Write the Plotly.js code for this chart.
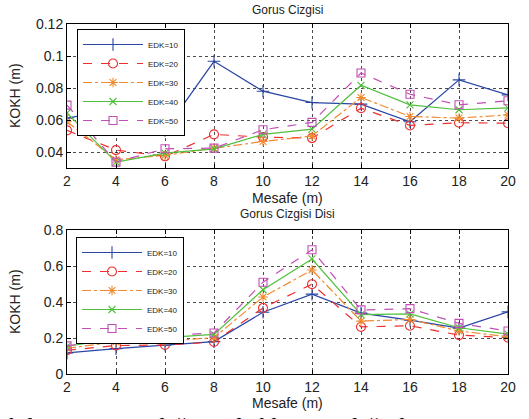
<!DOCTYPE html>
<html><head><meta charset="utf-8">
<script src="https://cdn.plot.ly/plotly-3.0.1.min.js"></script>
<style>html,body{margin:0;padding:0;background:#fff;}#chart{width:529px;height:419px;}</style>
</head><body><div id="chart"></div>
<script>
const mesafe = [2, 4, 6, 8, 10, 12, 14, 16, 18, 20];
const seriesNames = ['EDK=10', 'EDK=20', 'EDK=30', 'EDK=40', 'EDK=50'];

// Gorus Cizgisi (top)
const gcEdk10 = [0.0612, 0.0666, 0.0535, 0.0967, 0.0780, 0.0709, 0.0699, 0.0589, 0.0851, 0.0757];
const gcEdk20 = [0.0535, 0.0412, 0.0373, 0.0510, 0.0493, 0.0487, 0.0674, 0.0566, 0.0583, 0.0580];
const gcEdk30 = [0.0589, 0.0352, 0.0379, 0.0424, 0.0466, 0.0500, 0.0741, 0.0622, 0.0612, 0.0632];
const gcEdk40 = [0.0643, 0.0337, 0.0393, 0.0420, 0.0510, 0.0543, 0.0817, 0.0695, 0.0664, 0.0676];
const gcEdk50 = [0.0693, 0.0337, 0.0420, 0.0424, 0.0539, 0.0585, 0.0894, 0.0761, 0.0695, 0.0720];

// Gorus Cizgisi Disi (bottom)
const gcdEdk10 = [0.117, 0.141, 0.160, 0.180, 0.343, 0.444, 0.338, 0.299, 0.255, 0.345];
const gcdEdk20 = [0.132, 0.158, 0.161, 0.178, 0.367, 0.499, 0.262, 0.268, 0.216, 0.202];
const gcdEdk30 = [0.143, 0.178, 0.183, 0.202, 0.428, 0.578, 0.294, 0.303, 0.239, 0.207];
const gcdEdk40 = [0.154, 0.195, 0.202, 0.220, 0.468, 0.639, 0.330, 0.334, 0.257, 0.222];
const gcdEdk50 = [0.156, 0.200, 0.213, 0.228, 0.510, 0.690, 0.356, 0.363, 0.281, 0.239];

const xTicks = [2, 4, 6, 8, 10, 12, 14, 16, 18, 20];
const yTopTicks = [0.04, 0.06, 0.08, 0.1, 0.12];
const yTopLabels = ['0.04', '0.06', '0.08', '0.1', '0.12'];
const yBotTicks = [0, 0.2, 0.4, 0.6, 0.8];
const yBotLabels = ['0', '0.2', '0.4', '0.6', '0.8'];

const topTitle = 'Gorus Cizgisi';
const botTitle = 'Gorus Cizgisi Disi';
const xTitle = 'Mesafe (m)';
const yTitle = 'KOKH (m)';
const caption = 'ekil 5: CSA\u2019nın değişen farklı EDK değerleri için KOKH';

const colors = ['#2a45a3', '#ec2f2f', '#f28a2e', '#4fbf3c', '#c24fb5'];
const dashes = ['solid', 'dash', 'dashdot', 'solid', 'dash'];
const symbols = ['cross-thin-open', 'circle-open', 'asterisk-open', 'x-thin-open', 'square-open'];
const msizes = [9, 9, 8, 7, 8];

const topData = [gcEdk10, gcEdk20, gcEdk30, gcEdk40, gcEdk50];
const botData = [gcdEdk10, gcdEdk20, gcdEdk30, gcdEdk40, gcdEdk50];

const traces = [];
topData.forEach((ys, i) => {
  traces.push({x: mesafe, y: ys, name: seriesNames[i], type: 'scatter', mode: 'lines+markers',
    xaxis: 'x', yaxis: 'y', legend: 'legend',
    line: {color: colors[i], width: 1.2, dash: dashes[i]},
    marker: {symbol: symbols[i], size: msizes[i], color: colors[i], line: {color: colors[i], width: 1.1}}});
});
botData.forEach((ys, i) => {
  traces.push({x: mesafe, y: ys, name: seriesNames[i], type: 'scatter', mode: 'lines+markers',
    xaxis: 'x2', yaxis: 'y2', legend: 'legend2',
    line: {color: colors[i], width: 1.2, dash: dashes[i]},
    marker: {symbol: symbols[i], size: msizes[i], color: colors[i], line: {color: colors[i], width: 1.1}}});
});

const W = 529, H = 419;
const xd = [67 / W, 508 / W];
const axFont = {family: 'Liberation Sans, Arial, sans-serif', size: 14, color: '#222'};
function xAxis(anchor) {
  return {domain: xd, range: [2, 20], tickvals: xTicks, ticktext: xTicks.map(String), anchor: anchor,
    showline: true, linecolor: '#000', linewidth: 1, mirror: 'ticks', ticks: 'inside', ticklen: 4,
    tickcolor: '#000', showgrid: true, gridcolor: '#000', griddash: 'dot', gridwidth: 0.7,
    zeroline: false, tickfont: axFont};
}
function yAxis(anchor, dom, rng, tv, tt) {
  return {domain: dom, range: rng, tickvals: tv, ticktext: tt, anchor: anchor,
    showline: true, linecolor: '#000', linewidth: 1, mirror: 'ticks', ticks: 'inside', ticklen: 4,
    tickcolor: '#000', showgrid: true, gridcolor: '#000', griddash: 'dot', gridwidth: 0.7,
    zeroline: false, tickfont: axFont};
}
const legFont = {family: 'Liberation Sans, Arial, sans-serif', size: 8, color: '#222'};
const layout = {
  width: W, height: H, margin: {l: 0, r: 0, t: 0, b: 0},
  paper_bgcolor: '#fff', plot_bgcolor: '#fff', showlegend: true,
  xaxis: xAxis('y'),
  yaxis: yAxis('x', [1 - 168 / H, 1 - 24 / H], [0.03, 0.12], yTopTicks, yTopLabels),
  xaxis2: xAxis('y2'),
  yaxis2: yAxis('x2', [1 - 374 / H, 1 - 230 / H], [0, 0.8], yBotTicks, yBotLabels),
  legend: {x: 77 / W, y: 1 - 29 / H, xanchor: 'left', yanchor: 'top', bgcolor: '#fff',
    bordercolor: '#000', borderwidth: 1, font: legFont, tracegroupgap: 0, itemwidth: 60},
  legend2: {x: 76 / W, y: 1 - 237 / H, xanchor: 'left', yanchor: 'top', bgcolor: '#fff',
    bordercolor: '#000', borderwidth: 1, font: legFont, tracegroupgap: 0, itemwidth: 60},
  annotations: [
    {text: topTitle, x: 287.5 / W, y: 1 - 10 / H, xref: 'paper', yref: 'paper', showarrow: false,
      xanchor: 'center', yanchor: 'middle', font: {family: 'Liberation Sans, Arial, sans-serif', size: 12, color: '#222'}},
    {text: botTitle, x: 287.5 / W, y: 1 - 214 / H, xref: 'paper', yref: 'paper', showarrow: false,
      xanchor: 'center', yanchor: 'middle', font: {family: 'Liberation Sans, Arial, sans-serif', size: 12, color: '#222'}},
    {text: xTitle, x: 287.5 / W, y: 1 - 198 / H, xref: 'paper', yref: 'paper', showarrow: false,
      xanchor: 'center', yanchor: 'middle', font: {family: 'Liberation Sans, Arial, sans-serif', size: 14, color: '#222'}},
    {text: xTitle, x: 287.5 / W, y: 1 - 403 / H, xref: 'paper', yref: 'paper', showarrow: false,
      xanchor: 'center', yanchor: 'middle', font: {family: 'Liberation Sans, Arial, sans-serif', size: 14, color: '#222'}},
    {text: yTitle, x: 15 / W, y: 1 - 96 / H, xref: 'paper', yref: 'paper', showarrow: false, textangle: -90,
      xanchor: 'center', yanchor: 'middle', font: {family: 'Liberation Sans, Arial, sans-serif', size: 14, color: '#222'}},
    {text: yTitle, x: 15 / W, y: 1 - 302 / H, xref: 'paper', yref: 'paper', showarrow: false, textangle: -90,
      xanchor: 'center', yanchor: 'middle', font: {family: 'Liberation Sans, Arial, sans-serif', size: 14, color: '#222'}},
    {text: caption, x: -4 / W, y: 1 - 411 / H, xref: 'paper', yref: 'paper', showarrow: false,
      xanchor: 'left', yanchor: 'top', font: {family: 'Liberation Serif, Times New Roman, serif', size: 24, color: '#000'}}
  ]
};
Plotly.newPlot('chart', traces, layout, {displayModeBar: false, staticPlot: true});
</script>
</body></html>
